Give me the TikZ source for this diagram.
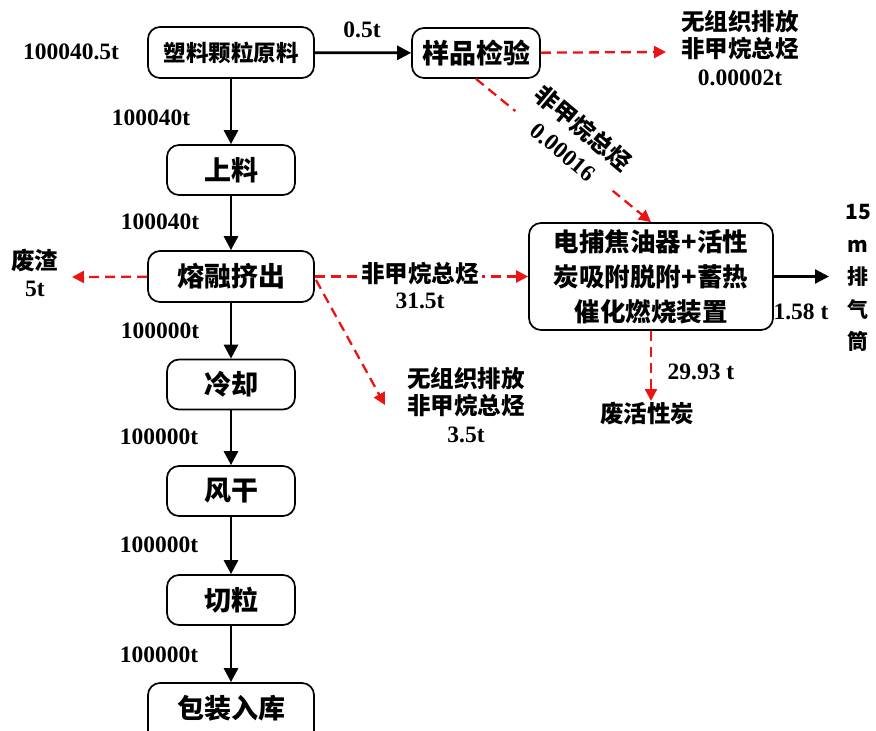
\documentclass[tikz,border=0pt]{standalone}
\usepackage{fontspec}
\newfontfamily\cjk{Noto Sans CJK SC}
\newfontfamily\tnr{Liberation Serif}
\usetikzlibrary{arrows.meta}
\definecolor{dred}{RGB}{235,20,20}
\newcommand{\zh}[1]{{\cjk\bfseries #1}}
\newcommand{\tn}[1]{{\tnr\bfseries #1}}
\begin{document}
\begin{tikzpicture}[x=1pt,y=-1pt,
  box/.style={draw, rounded corners=12pt, line width=1.7pt, inner sep=0pt,
    font=\cjk\bfseries\fontsize{27}{30}\selectfont},
  sbox/.style={box, minimum width=128pt, minimum height=50pt},
  wbox/.style={box, minimum width=166pt, minimum height=51pt},
  num/.style={font=\tnr\bfseries\fontsize{23.5}{26}\selectfont, inner sep=1pt},
  lab/.style={font=\cjk\bfseries\fontsize{23.5}{28}\selectfont, inner sep=1pt, align=center},
  mix/.style={align=center, inner sep=1pt, font=\fontsize{23.5}{27.5}\selectfont},
  blk/.style={line width=2.8pt, -{Triangle[length=14pt,width=14pt]}},
  red/.style={draw=dred, line width=2.3pt, dash pattern=on 10pt off 6pt, -{Triangle[length=12pt,width=12pt]}, dred}
]
\useasboundingbox (0,0) rectangle (876,731);
\begin{scope}
\clip (0,0) rectangle (876,731);
% boxes
\node[wbox, font=\cjk\bfseries\fontsize{22.5}{26}\selectfont] (raw) at (231,52.5) {塑料颗粒原料};
\node[sbox] (smp) at (476,53) {样品检验};
\node[sbox] (feed) at (231,170) {上料};
\node[wbox] (melt) at (231,276.5) {熔融挤出};
\node[sbox] (cool) at (231,384.5) {冷却};
\node[sbox] (dry) at (231,491) {风干};
\node[sbox] (cut) at (231,600) {切粒};
\node[box, minimum width=166pt, minimum height=60pt] (pack) at (231,713) {};
\node[font=\cjk\bfseries\fontsize{27}{30}\selectfont] (packt) at (231,708) {包装入库};
\node[box, minimum width=244pt, minimum height=107pt, align=center,
  font=\cjk\bfseries\fontsize{25.5}{35}\selectfont] (dev) at (651,276.5)
  {电捕焦油器+活性\\炭吸附脱附+蓄热\\催化燃烧装置};
\end{scope}
% free ends
\coordinate (e1) at (666,52);
\coordinate (e2) at (72,277);
\coordinate (e3) at (385,405);
\coordinate (e4) at (651,401);
\coordinate (e5) at (829,276.5);
\coordinate (s3) at (316,280);
% solid arrows
\draw[blk] (raw) -- (smp);
\draw[blk] (raw) -- (feed);
\draw[blk] (feed) -- (melt);
\draw[blk] (melt) -- (cool);
\draw[blk] (cool) -- (dry);
\draw[blk] (dry) -- (cut);
\draw[blk] (cut) -- (pack.north);
\draw[line width=2.4pt, -{Triangle[length=14pt,width=14pt]}] (dev) -- (e5);
% red dashed
\draw[red] (smp) -- (e1);
\draw[red] (smp.south) -- (dev.north);
\draw[red] (melt) -- (e2);
\draw[red] (melt.east) -- (dev.west);
\draw[red] (s3) -- (e3);
\draw[red] (dev) -- (e4);
% labels
\node[num] (l1) at (71,52) {100040.5t};
\node[num] (l2) at (362,30) {0.5t};
\node[mix] (l3) at (740,48) {\zh{无组织排放}\\\zh{非甲烷总烃}\\\tn{0.00002t}};
\node[mix, fill=white, rotate=-40, inner sep=4pt, font=\fontsize{23.5}{30}\selectfont] (l4) at (574,139) {\zh{非甲烷总烃}\\\tn{0.00016}};
\node[num] (l5) at (151,118) {100040t};
\node[num] (l6) at (160,222) {100040t};
\node[mix] (l7) at (35,273) {\zh{废渣}\\\tn{5t}};
\node[lab, fill=white, inner xsep=3pt] (l8) at (420,274) {非甲烷总烃};
\node[num] (l9) at (420,301) {31.5t};
\node[num] (l10) at (160,331) {100000t};
\node[mix] (l11) at (466,405) {\zh{无组织排放}\\\zh{非甲烷总烃}\\\tn{3.5t}};
\node[num] (l12) at (159,437) {100000t};
\node[num] (l13) at (159,545) {100000t};
\node[num] (l14) at (159,655) {100000t};
\node[num] (l15) at (701,372) {29.93 t};
\node[lab] (l16) at (647,414) {废活性炭};
\node[num] (l17) at (801,312) {1.58 t};
\node[mix, font=\cjk\bfseries\fontsize{21}{32.5}\selectfont] (l18) at (858,278) {15\\m\\排\\气\\筒};
\end{tikzpicture}
\end{document}
